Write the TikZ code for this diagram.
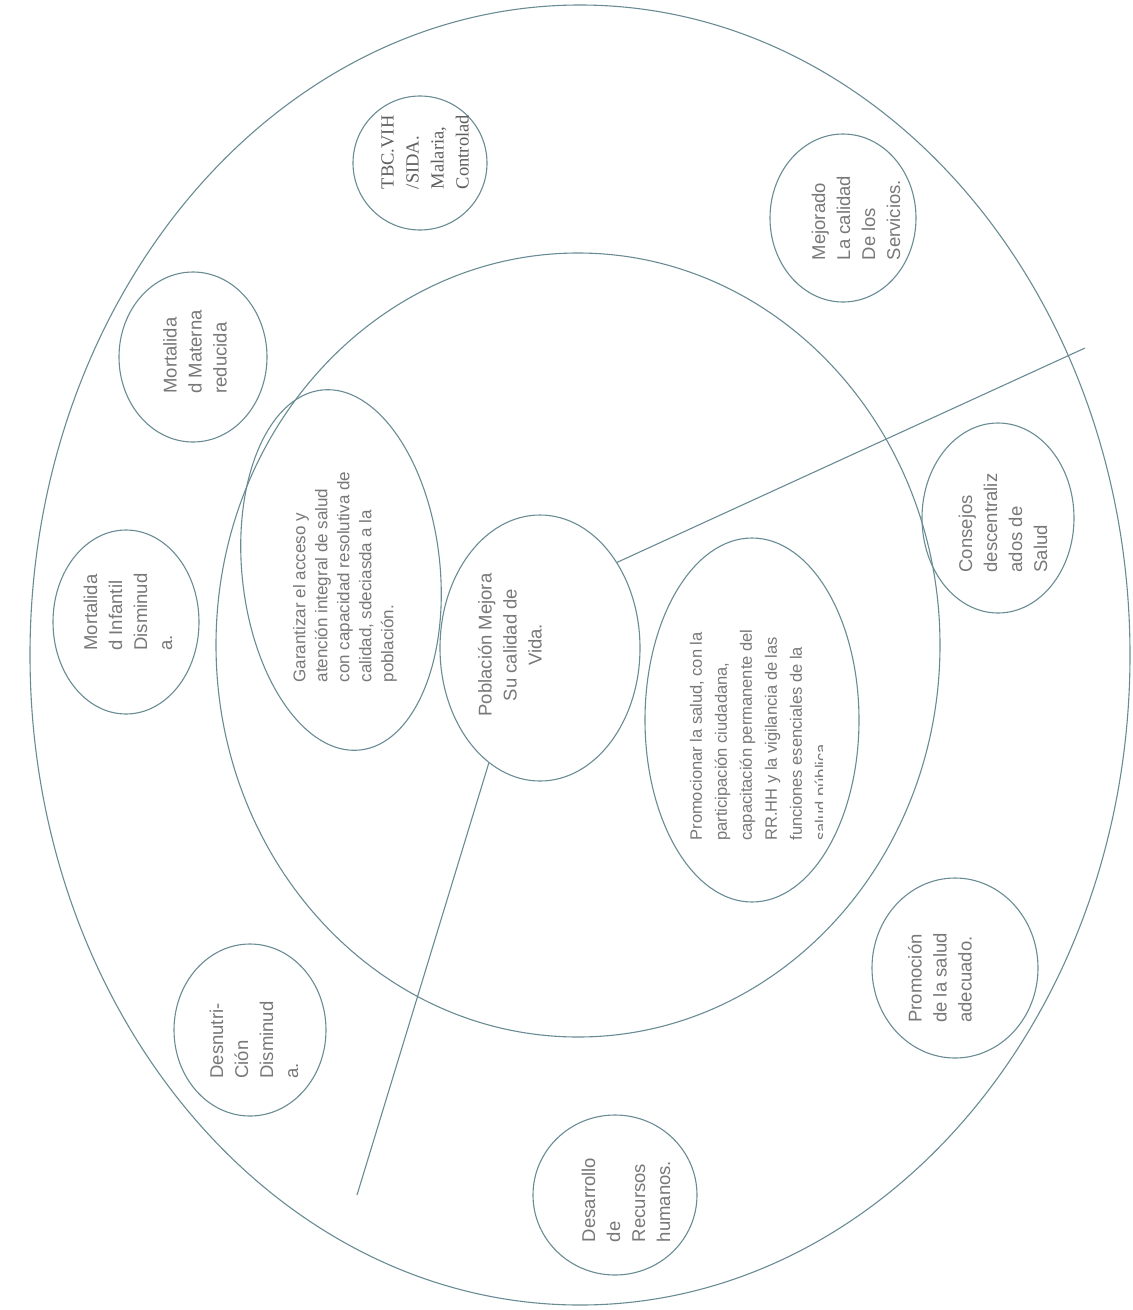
\documentclass[tikz,border=0pt]{standalone}
\usepackage{fontspec}
\setmainfont{Liberation Sans}
\newfontfamily\tbcfont{Liberation Serif}
\usetikzlibrary{shapes.geometric}
\definecolor{linec}{RGB}{105,140,148}
\definecolor{txtc}{RGB}{120,120,120}
\definecolor{txtd}{RGB}{95,95,95}
\begin{document}
\begin{tikzpicture}[x=1pt,y=-1pt,
  ring/.style={ellipse, draw=linec, line width=1.1pt, inner sep=0pt},
  lbl/.style={rotate=90, align=left, text=txtc, font=\fontsize{18.5}{25}\selectfont, inner sep=0pt},
  mid/.style={rotate=90, align=left, text=txtc, font=\fontsize{16.5}{24}\selectfont, inner sep=0pt},
  conn/.style={draw=linec, line width=1.1pt}]
\useasboundingbox (0,0) rectangle (1133,1310);
\fill[white] (0,0) rectangle (1133,1310);

% big rings
\node[ring, minimum width=1100pt, minimum height=1300pt] (outer) at (580,655) {};
\node[ring, minimum width=724pt, minimum height=784pt] (inner) at (578,645) {};

% inner ellipses
\node[ring, rotate=6, minimum width=198pt, minimum height=362pt] (gar) at (341,570) {};
\node[ring, minimum width=200pt, minimum height=266pt] (pob) at (540,648) {};
\node[ring, minimum width=214pt, minimum height=364pt] (prm) at (752,720) {};

% small circles
\node[ring, minimum width=134pt, minimum height=134pt] (tbc) at (420,163) {};
\node[ring, minimum width=146pt, minimum height=168pt] (mej) at (843,218) {};
\node[ring, minimum width=148pt, minimum height=170pt] (mat) at (193,357) {};
\node[ring, minimum width=146pt, minimum height=184pt] (inf) at (126,622) {};
\node[ring, minimum width=152pt, minimum height=172pt] (des) at (250,1030) {};
\node[ring, minimum width=164pt, minimum height=160pt] (rrhh) at (615,1195) {};
\node[ring, minimum width=166pt, minimum height=180pt] (pms) at (955,968) {};
\node[ring, minimum width=152pt, minimum height=190pt] (con) at (998,518) {};

% connectors
\coordinate (e1) at (1085,348);
\coordinate (e2) at (357,1195);
\draw[conn] (pob.48) -- (e1);
\draw[conn] (pob.246) -- (e2);

% texts
\node[lbl, text=txtd, font=\tbcfont\fontsize{18.5}{25}\selectfont] (tbct) at (425,152) {TBC.VIH\\/SIDA.\\Malaria,\\Controlad};
\node[lbl] (mejt) at (856,218) {Mejorado\\La calidad\\De los\\Servicios.};
\node[lbl] (matt) at (195,352) {Mortalida\\d Materna\\reducida};
\node[lbl] (inft) at (128,612) {Mortalida\\d Infantil\\Disminud\\a.};
\node[lbl] (dest) at (254,1040) {Desnutri-\\Ción\\Disminud\\a.};
\node[lbl] (rrhht) at (626,1200) {Desarrollo\\de\\Recursos\\humanos.};
\node[lbl] (pmst) at (940,978) {Promoción\\de la salud\\adecuado.};
\node[lbl] (cont) at (1003,523) {Consejos\\descentraliz\\ados de\\Salud};
\node[mid, font=\fontsize{17}{22}\selectfont] (gart) at (345,577) {Garantizar el acceso y\\atención integral de salud\\con capacidad resolutiva de\\calidad, sdeciasda  a la\\población.};
\node[lbl, align=center] (pobt) at (510,645) {Población Mejora\\Su calidad de\\Vida.};
\begin{scope}
  \clip (600,500) rectangle (822,950);
  \node[mid, font=\fontsize{16.5}{25}\selectfont] (prmt) at (760,735) {Promocionar la salud, con la\\participación ciudadana,\\capacitación  permanente del\\RR.HH y la vigilancia de las\\funciones esenciales de la\\salud pública};
\end{scope}
\end{tikzpicture}
\end{document}
